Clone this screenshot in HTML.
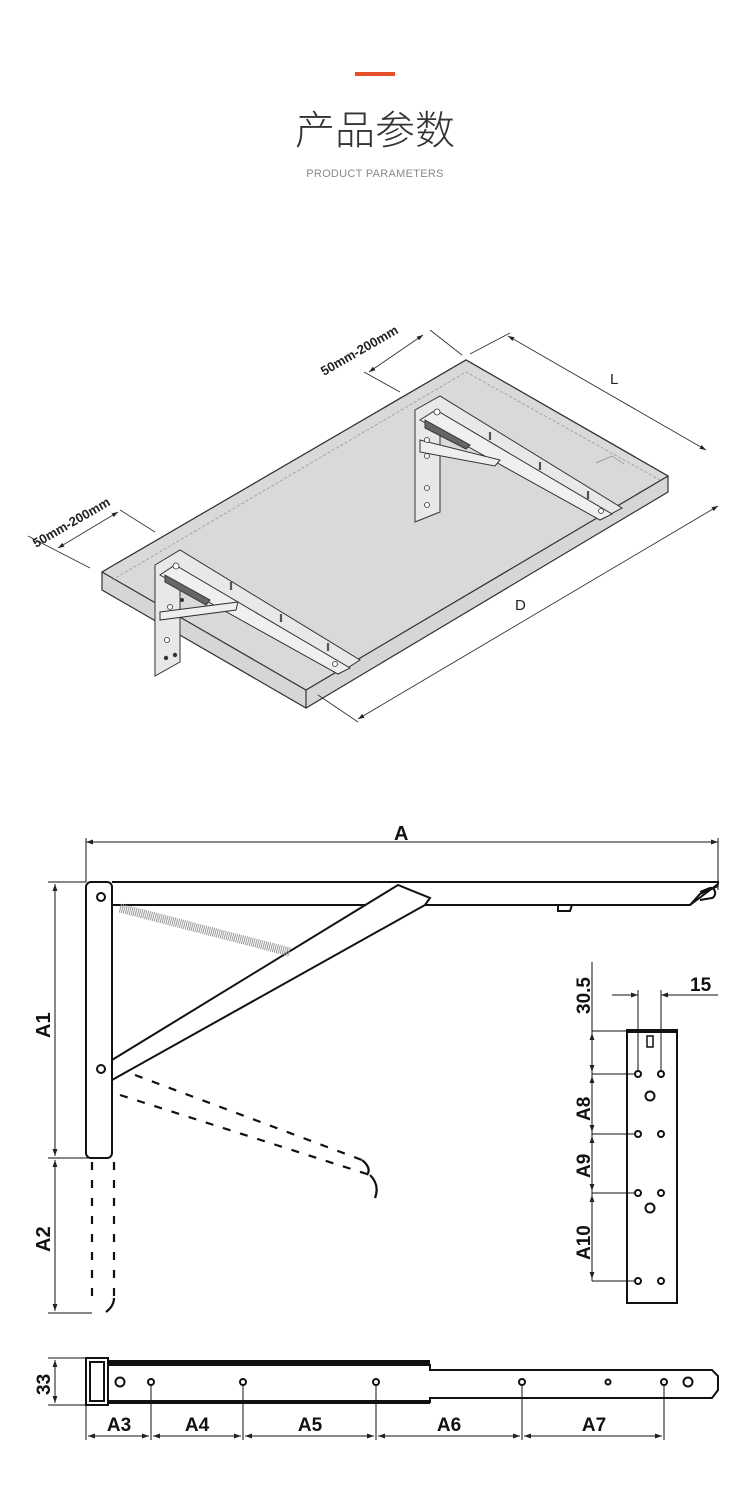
<!DOCTYPE html>
<html><head><meta charset="utf-8"><style>
html,body{margin:0;padding:0;background:#fff;}
svg{display:block;}
</style></head><body>
<svg width="750" height="1487" viewBox="0 0 750 1487" xmlns="http://www.w3.org/2000/svg" font-family="Liberation Sans, Arial, sans-serif">
<defs>
<marker id="ar" viewBox="0 0 10 10" refX="10" refY="5" markerWidth="7" markerHeight="7" orient="auto-start-reverse"><path d="M0,1.5 L10,5 L0,8.5 z" fill="#222"/></marker>
</defs>
<rect x="355" y="72" width="40" height="4" fill="#e4502a"/>
<text x="375" y="144" text-anchor="middle" font-size="40" fill="#333" font-family="Liberation Sans, Noto Sans CJK SC, sans-serif" font-weight="300">产品参数</text>
<text x="375" y="177" text-anchor="middle" font-size="11" fill="#888" letter-spacing="0.3">PRODUCT PARAMETERS</text>

<!-- shelf -->
<g stroke="#333" stroke-width="1.2" fill="#d6d6d6">
<polygon points="102,572 466,360 668,476 668,492 306,708 102,590"/>
<polygon points="102,572 466,360 668,476 306,690" fill="#d9d9d9"/>
<line x1="306" y1="690" x2="306" y2="708"/>
</g>
<polyline points="112,580 466,372 660,480" fill="none" stroke="#999" stroke-width="0.8" stroke-dasharray="3,2"/>
<polyline points="596,463 612,456 624,464" fill="none" stroke="#888" stroke-width="0.7"/>
<!-- back bracket -->
<g stroke="#333" stroke-width="1" fill="#e8e8e8">
<polygon points="415,410 440,396 622,508 600,520 440,420 440,512 415,522"/>
<polygon points="420,420 600,520 612,514 436,410" fill="#f0f0f0"/>
<polygon points="420,440 500,460 495,466 420,452" fill="#eee"/>
<polygon points="425,420 470,445 466,449 425,428" fill="#666"/>
</g>
<g fill="#fff" stroke="#333" stroke-width="0.8"><circle cx="437" cy="412" r="3"/><circle cx="427" cy="440" r="2.5"/><circle cx="427" cy="456" r="2.5"/><circle cx="427" cy="488" r="2.5"/><circle cx="427" cy="505" r="2.5"/><circle cx="601" cy="511" r="2.5"/></g>
<g stroke="#555" stroke-width="2.2"><line x1="490" y1="432" x2="490" y2="440"/><line x1="540" y1="462" x2="540" y2="470"/><line x1="588" y1="491" x2="588" y2="499"/></g>
<!-- front bracket -->
<g stroke="#333" stroke-width="1" fill="#e8e8e8">
<polygon points="155,565 180,550 360,660 338,674 180,575 180,662 155,676"/>
<polygon points="160,575 338,674 350,668 175,565" fill="#f0f0f0"/>
<polygon points="160,612 238,602 236,610 160,620" fill="#eee"/>
<polygon points="165,575 210,600 206,605 165,582" fill="#666"/>
</g>
<g fill="#fff" stroke="#333" stroke-width="0.8"><circle cx="176" cy="566" r="3"/><circle cx="167" cy="640" r="2.5"/><circle cx="170" cy="607" r="2.5"/><circle cx="335" cy="664" r="2.5"/></g>
<g fill="#333"><circle cx="166" cy="658" r="2.2"/><circle cx="175" cy="655" r="2.2"/><circle cx="182" cy="600" r="2"/></g>
<g stroke="#555" stroke-width="2.2"><line x1="231" y1="582" x2="231" y2="590"/><line x1="281" y1="614" x2="281" y2="622"/><line x1="328" y1="643" x2="328" y2="651"/></g>
<!-- dims shelf -->
<g stroke="#333" stroke-width="0.9" fill="none">
<line x1="470" y1="354" x2="510" y2="333"/>
<line x1="508" y1="336" x2="706" y2="450" marker-start="url(#ar)" marker-end="url(#ar)"/>
<line x1="430" y1="330" x2="462" y2="355"/>
<line x1="364" y1="372" x2="400" y2="392"/>
<line x1="369" y1="372" x2="423" y2="335" marker-start="url(#ar)" marker-end="url(#ar)"/>
<line x1="120" y1="510" x2="155" y2="532"/>
<line x1="28" y1="536" x2="90" y2="568"/>
<line x1="58" y1="548" x2="118" y2="512" marker-start="url(#ar)" marker-end="url(#ar)"/>
<line x1="318" y1="695" x2="358" y2="722"/>
<line x1="358" y1="719" x2="718" y2="506" marker-start="url(#ar)" marker-end="url(#ar)"/>
</g>
<text x="610" y="384" font-size="15" fill="#222">L</text>
<text x="515" y="610" font-size="15" fill="#222">D</text>
<text transform="translate(324,376) rotate(-30)" font-size="13" font-weight="bold" fill="#222">50mm-200mm</text>
<text transform="translate(36,548) rotate(-30)" font-size="13" font-weight="bold" fill="#222">50mm-200mm</text>

<!-- side view bracket -->
<g stroke="#111" stroke-width="2" fill="none">
<line x1="86" y1="838" x2="86" y2="882" stroke-width="1"/>
<line x1="718" y1="838" x2="718" y2="890" stroke-width="1"/>
<line x1="86" y1="842" x2="718" y2="842" stroke-width="1" marker-start="url(#ar)" marker-end="url(#ar)"/>
<rect x="86" y="882" width="26" height="276" rx="5" fill="#fff"/>
<polyline points="112,882 718,882 718,884 710,890 690,905 430,905 400,905 112,905"/>
<polyline points="690,905 700,894 718,886"/>
<path d="M700,892 l10,-4 a4,5 0 0 1 2,10 l-12,2"/>
<path d="M558,905 v6 h12 l2,-6"/>
<polygon points="112,1060 398,885 430,898 425,905 112,1080" fill="#fff"/>
<circle cx="101" cy="897" r="4"/><circle cx="101" cy="1069" r="4"/>
</g>
<line x1="120" y1="908" x2="290" y2="952" stroke="#999" stroke-width="9" stroke-dasharray="1,1"/>
<g stroke="#111" stroke-width="2.2" fill="none" stroke-dasharray="8,10">
<line x1="92" y1="1162" x2="92" y2="1305"/>
<line x1="114" y1="1162" x2="114" y2="1300"/>
<line x1="120" y1="1095" x2="370" y2="1175"/>
<line x1="135" y1="1075" x2="362" y2="1160"/>
<path d="M362,1160 q10,8 5,15 M370,1175 q10,10 5,23 M114,1298 q0,8 -8,14" stroke-dasharray="none"/>
</g>
<g stroke="#111" stroke-width="1" fill="none">
<line x1="48" y1="882" x2="86" y2="882"/>
<line x1="48" y1="1158" x2="100" y2="1158"/>
<line x1="48" y1="1313" x2="92" y2="1313"/>
<line x1="55" y1="884" x2="55" y2="1156" marker-start="url(#ar)" marker-end="url(#ar)"/>
<line x1="55" y1="1160" x2="55" y2="1311" marker-start="url(#ar)" marker-end="url(#ar)"/>
</g>
<text x="394" y="840" font-size="20" font-weight="bold" fill="#111">A</text>
<text transform="translate(50,1038) rotate(-90)" font-size="20" font-weight="bold" fill="#111">A1</text>
<text transform="translate(50,1252) rotate(-90)" font-size="20" font-weight="bold" fill="#111">A2</text>

<!-- plate -->
<g stroke="#111" stroke-width="2" fill="none">
<rect x="627" y="1031" width="50" height="272" fill="#fff"/>
<line x1="626" y1="1031" x2="678" y2="1031" stroke-width="4"/>
<rect x="647" y="1036" width="6" height="11" stroke-width="1.5"/>
<circle cx="638" cy="1074" r="3"/><circle cx="661" cy="1074" r="3"/>
<circle cx="650" cy="1096" r="4.5"/>
<circle cx="638" cy="1134" r="3"/><circle cx="661" cy="1134" r="3"/>
<circle cx="638" cy="1193" r="3"/><circle cx="661" cy="1193" r="3"/>
<circle cx="650" cy="1208" r="4.5"/>
<circle cx="638" cy="1281" r="3"/><circle cx="661" cy="1281" r="3"/>
</g>
<g stroke="#111" stroke-width="1" fill="none">
<line x1="592" y1="962" x2="592" y2="1281"/>
<line x1="592" y1="1031" x2="627" y2="1031"/>
<line x1="592" y1="1074" x2="635" y2="1074"/>
<line x1="592" y1="1134" x2="635" y2="1134"/>
<line x1="592" y1="1193" x2="635" y2="1193"/>
<line x1="592" y1="1281" x2="635" y2="1281"/>
<line x1="592" y1="1033" x2="592" y2="1072" marker-start="url(#ar)" marker-end="url(#ar)"/>
<line x1="592" y1="1076" x2="592" y2="1132" marker-start="url(#ar)" marker-end="url(#ar)"/>
<line x1="592" y1="1136" x2="592" y2="1191" marker-start="url(#ar)" marker-end="url(#ar)"/>
<line x1="592" y1="1195" x2="592" y2="1279" marker-start="url(#ar)" marker-end="url(#ar)"/>
<line x1="638" y1="990" x2="638" y2="1071"/>
<line x1="661" y1="990" x2="661" y2="1071"/>
<line x1="612" y1="995" x2="638" y2="995" marker-end="url(#ar)"/>
<line x1="718" y1="995" x2="661" y2="995" marker-end="url(#ar)"/>
</g>
<text x="690" y="991" font-size="19" font-weight="bold" fill="#111">15</text>
<text transform="translate(590,1014) rotate(-90)" font-size="19" font-weight="bold" fill="#111">30.5</text>
<text transform="translate(590,1121) rotate(-90)" font-size="19" font-weight="bold" fill="#111">A8</text>
<text transform="translate(590,1178) rotate(-90)" font-size="19" font-weight="bold" fill="#111">A9</text>
<text transform="translate(590,1260) rotate(-90)" font-size="19" font-weight="bold" fill="#111">A10</text>

<!-- bottom bar -->
<g stroke="#111" stroke-width="2" fill="none">
<path d="M108,1365 H430 V1370 H712 L718,1376 V1390 L712,1398 H430 V1402 H108" fill="#fff"/>
<line x1="108" y1="1362" x2="430" y2="1362" stroke-width="4"/>
<line x1="108" y1="1402" x2="430" y2="1402" stroke-width="4"/>
<rect x="86" y="1358" width="22" height="47" fill="#fff"/>
<rect x="90" y="1362" width="14" height="39"/>
<circle cx="120" cy="1382" r="4.5"/><circle cx="151" cy="1382" r="3"/><circle cx="243" cy="1382" r="3"/><circle cx="376" cy="1382" r="3"/><circle cx="522" cy="1382" r="3"/><circle cx="608" cy="1382" r="2.5"/><circle cx="664" cy="1382" r="3"/><circle cx="688" cy="1382" r="4.5"/>
</g>
<g stroke="#111" stroke-width="1" fill="none">
<line x1="48" y1="1358" x2="86" y2="1358"/>
<line x1="48" y1="1405" x2="86" y2="1405"/>
<line x1="55" y1="1360" x2="55" y2="1403" marker-start="url(#ar)" marker-end="url(#ar)"/>
<line x1="86" y1="1405" x2="86" y2="1440"/>
<line x1="151" y1="1385" x2="151" y2="1440"/>
<line x1="243" y1="1385" x2="243" y2="1440"/>
<line x1="376" y1="1385" x2="376" y2="1440"/>
<line x1="522" y1="1385" x2="522" y2="1440"/>
<line x1="664" y1="1385" x2="664" y2="1440"/>
<line x1="88" y1="1436" x2="149" y2="1436" marker-start="url(#ar)" marker-end="url(#ar)"/>
<line x1="153" y1="1436" x2="241" y2="1436" marker-start="url(#ar)" marker-end="url(#ar)"/>
<line x1="245" y1="1436" x2="374" y2="1436" marker-start="url(#ar)" marker-end="url(#ar)"/>
<line x1="378" y1="1436" x2="520" y2="1436" marker-start="url(#ar)" marker-end="url(#ar)"/>
<line x1="524" y1="1436" x2="662" y2="1436" marker-start="url(#ar)" marker-end="url(#ar)"/>
</g>
<g font-size="19" font-weight="bold" fill="#111" text-anchor="middle">
<text x="119" y="1431">A3</text><text x="197" y="1431">A4</text><text x="310" y="1431">A5</text><text x="449" y="1431">A6</text><text x="594" y="1431">A7</text>
</g>
<text transform="translate(50,1395) rotate(-90)" font-size="19" font-weight="bold" fill="#111">33</text>
</svg>
</body></html>
